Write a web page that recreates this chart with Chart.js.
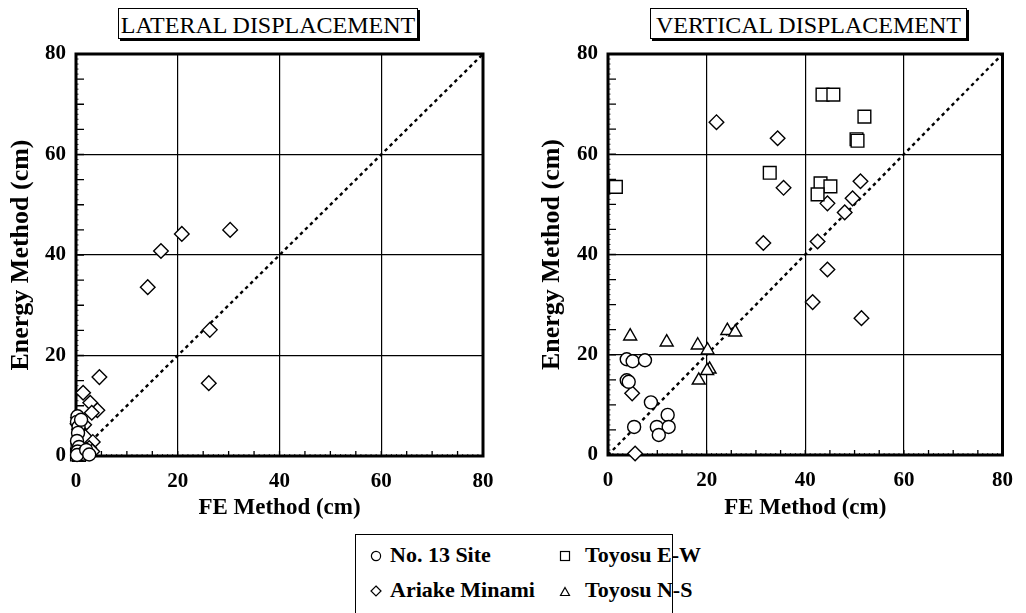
<!DOCTYPE html>
<html><head><meta charset="utf-8">
<script src="https://cdn.jsdelivr.net/npm/chart.js@4.4.0/dist/chart.umd.min.js"></script>
<style>
html,body{margin:0;padding:0;background:#fff;}
body{width:1026px;height:613px;overflow:hidden;position:relative;font-family:"Liberation Serif","Times New Roman",serif;color:#000;}
.ttl{position:absolute;top:8px;height:31px;border:1.5px solid #000;box-shadow:2px 2px 0 #000;font-size:24px;line-height:32px;text-align:center;white-space:nowrap;background:#fff;box-sizing:border-box;}
.cv{position:absolute;top:0;}
#legend{position:absolute;left:355px;top:534px;width:318px;height:82px;border:1.5px solid #000;box-sizing:border-box;font-weight:bold;font-size:22px;}
.li{position:absolute;white-space:nowrap;}
.sym{position:absolute;}
</style>
</head><body>
<div class="ttl" style="left:118px;width:300px;">LATERAL DISPLACEMENT</div>
<div class="ttl" style="left:650px;width:317px;">VERTICAL DISPLACEMENT</div>
<div class="cv" style="left:0;width:513px;height:530px;"><canvas id="c1"></canvas></div>
<div class="cv" style="left:513px;width:513px;height:530px;"><canvas id="c2"></canvas></div>
<div id="legend">
  <svg class="sym" width="12" height="12" style="left:14px;top:15px"><circle cx="6" cy="6" r="4.6" fill="#fff" stroke="#000" stroke-width="1.2"/></svg>
  <div class="li" style="left:34px;top:7px;">No. 13 Site</div>
  <svg class="sym" width="12" height="12" style="left:203px;top:15px"><rect x="1.5" y="1.5" width="9" height="9" fill="#fff" stroke="#000" stroke-width="1.2"/></svg>
  <div class="li" style="left:229px;top:7px;">Toyosu E-W</div>
  <svg class="sym" width="12" height="12" style="left:14px;top:50px"><path d="M6 1 L11 6 L6 11 L1 6 Z" fill="#fff" stroke="#000" stroke-width="1.2"/></svg>
  <div class="li" style="left:34px;top:42px;">Ariake Minami</div>
  <svg class="sym" width="12" height="12" style="left:203px;top:51px"><path d="M6 1.5 L10.5 9.5 L1.5 9.5 Z" fill="#fff" stroke="#000" stroke-width="1.2"/></svg>
  <div class="li" style="left:229px;top:42px;">Toyosu N-S</div>
</div>
<script>
// ---- data (cm) ----
const axisTicks = [0, 20, 40, 60, 80];
const equalityLine = [[0, 0], [80, 80]];

// Lateral displacement: [FE Method, Energy Method]
const latNo13 = [[0.3,7.9],[0.2,6.8],[0.5,5.8],[0.4,4.6],[0.2,3.0],[0.6,1.8],[0.3,0.9],[1.2,0.4],[0.2,0.2],[2.0,1.2],[2.6,0.3],[1.0,7.2]];
const latToyosuEW = [[0.2,0.3],[0.6,0.2],[0.3,1.4],[1.0,0.8]];
const latAriake = [[30.3,45.0],[20.8,44.2],[16.7,40.8],[14.1,33.6],[26.3,25.1],[26.1,14.5],[4.6,15.7],[1.4,12.6],[2.8,10.6],[4.2,9.1],[3.1,8.6],[1.6,6.2],[0.4,7.6],[0.3,6.4],[0.6,5.3],[1.8,3.8],[3.3,2.8],[2.6,1.6],[0.8,1.2],[1.6,0.6],[3.2,0.9]];
const latToyosuNS = [[0.4,0.2],[1.3,0.3],[0.8,0.6],[2.2,0.5]];

// Vertical displacement: [FE Method, Energy Method]
const vertNo13 = [[3.8,19.1],[5.0,18.7],[7.5,18.9],[3.8,14.9],[4.2,14.6],[8.7,10.5],[5.3,5.6],[12.1,8.0],[9.9,5.6],[12.3,5.6],[10.3,4.0]];
const vertToyosuEW = [[1.6,53.5],[32.8,56.3],[43.5,71.9],[45.7,71.9],[52.0,67.5],[50.4,63.0],[50.6,62.7],[43.1,54.2],[45.1,53.6],[42.5,52.0]];
const vertAriake = [[22.0,66.4],[34.4,63.2],[35.6,53.3],[31.5,42.3],[51.2,54.6],[49.6,51.2],[48.0,48.4],[44.5,50.2],[42.5,42.6],[44.5,37.0],[41.5,30.5],[51.4,27.3],[4.9,12.3],[5.5,0.3]];
const vertToyosuNS = [[4.5,23.7],[11.9,22.5],[18.2,21.9],[20.2,20.9],[20.6,17.1],[20.1,16.8],[18.4,14.9],[24.2,24.8],[25.8,24.5]];

const toXY = a => a.map(p => ({x: p[0], y: p[1]}));
const FONT = '"Liberation Serif","Times New Roman",serif';

function ds(label, pts, style, r) {
  return {type:'scatter', label, data: toXY(pts), pointStyle: style, pointRadius: r, pointHoverRadius: r,
    pointBackgroundColor:'#fff', pointBorderColor:'#000', pointBorderWidth:1.4, clip:false, order:1};
}

const framePlugin = {
  id:'frame',
  beforeDatasetsDraw(chart) {
    const {ctx, chartArea:a, scales:{x, y}} = chart;
    ctx.save();
    ctx.strokeStyle = '#000';
    for (let v = 0; v <= 80; v += 1) {
      const major5 = v % 5 === 0;
      const px = x.getPixelForValue(v), py = y.getPixelForValue(v);
      ctx.lineWidth = major5 ? 1.3 : 0.8;
      const lx = major5 ? 5 : 2, ly = major5 ? 8 : 2.5;
      ctx.beginPath();
      ctx.moveTo(px, a.bottom); ctx.lineTo(px, a.bottom - lx);
      ctx.moveTo(a.left, py); ctx.lineTo(a.left + ly, py);
      ctx.stroke();
    }
    ctx.lineWidth = 3;
    ctx.strokeRect(a.left, a.top, a.right - a.left, a.bottom - a.top);
    ctx.restore();
  }
};

function makeChart(id, sets, yWidth, padLeft, padRight, xHeight) {
  return new Chart(document.getElementById(id), {
    data: {
      datasets: [
        {type:'line', label:'1:1', data: toXY(equalityLine), borderColor:'#000', borderWidth:2.4, borderDash:[3.5,3.5],
         pointRadius:0, pointHoverRadius:0, fill:false, clip:false, order:2},
        ds('No. 13 Site', sets[0], 'circle', 6.5),
        ds('Toyosu E-W', sets[1], 'rect', 9),
        ds('Ariake Minami', sets[2], 'rectRot', 7.3),
        ds('Toyosu N-S', sets[3], 'triangle', 7.5)
      ]
    },
    options: {
      responsive:true, maintainAspectRatio:false, animation:false, events:[],
      layout:{padding:{top:54, right:padRight, left:padLeft, bottom:0}},
      plugins:{legend:{display:false}, tooltip:{enabled:false}, title:{display:false}},
      scales:{
        x:{type:'linear', min:0, max:80,
          afterFit(s){ s.height = xHeight; },
          afterBuildTicks(s){ s.ticks = axisTicks.map(v => ({value:v})); },
          grid:{color:'#000', lineWidth:1.2, drawTicks:false},
          border:{display:false},
          ticks:{color:'#000', padding:13, maxRotation:0, font:{family:FONT, size:21, weight:'bold'}},
          title:{display:true, text:'FE Method (cm)', color:'#000', padding:{top:0, bottom:8}, font:{family:FONT, size:23, weight:'bold'}}
        },
        y:{type:'linear', min:0, max:80,
          afterFit(s){ s.width = yWidth; },
          afterBuildTicks(s){ s.ticks = axisTicks.map(v => ({value:v})); },
          grid:{color:'#000', lineWidth:1.2, drawTicks:false},
          border:{display:false},
          ticks:{color:'#000', padding:10, font:{family:FONT, size:21, weight:'bold'}},
          title:{display:true, text:'Energy Method (cm)', color:'#000', padding:{top:6, bottom:0}, font:{family:FONT, size:26, weight:'bold'}}
        }
      }
    },
    plugins:[framePlugin]
  });
}

makeChart('c1', [latNo13, latToyosuEW, latAriake, latToyosuNS], 76, 0, 30, 74);
makeChart('c2', [vertNo13, vertToyosuEW, vertAriake, vertToyosuNS], 77, 18, 14, 75);
</script>
</body></html>
